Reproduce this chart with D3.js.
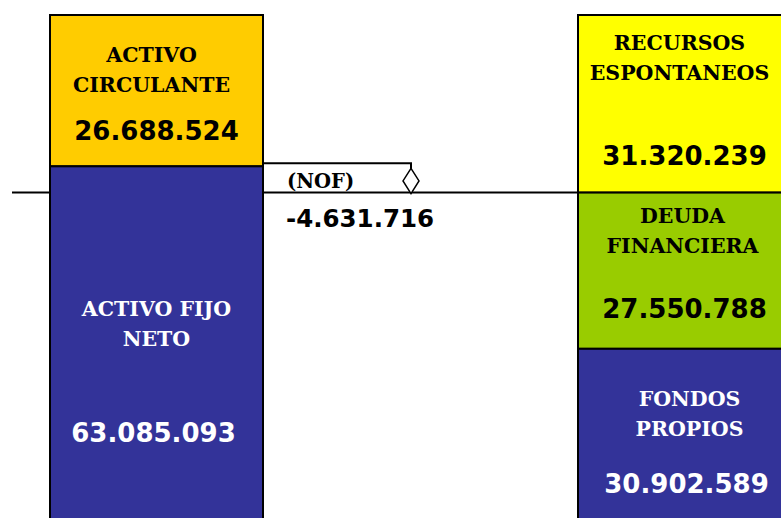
<html>
<script src="https://cdn.jsdelivr.net/npm/d3@7"></script>
<style>
body { margin:0; background:white; }
.lbl { font-family: "DejaVu Serif", serif; font-weight: bold; font-size: 20.5px; }
.num { font-family: "DejaVu Sans", Verdana, sans-serif; font-weight: bold; font-size: 26px; }
</style>
<body>
<div id="chart"></div>
</body>
<script>

// balance sheet data
var sides = ["activo", "pasivo"]
var activoLabels = [["ACTIVO", "CIRCULANTE"], ["ACTIVO FIJO", "NETO"]]
var activoValues = [26688524, 63085093]
var activoColors = ["#FFCC00", "#333399"]
var pasivoLabels = [["RECURSOS", "ESPONTANEOS"], ["DEUDA", "FINANCIERA"], ["FONDOS", "PROPIOS"]]
var pasivoValues = [31320239, 27550788, 30902589]
var pasivoColors = ["#FFFF00", "#99CC00", "#333399"]
var nofLabel = "(NOF)"
var nofValue = -4631716

var fmt = function(v){ return d3.format(",")(v).replace(/,/g, ".").replace("−", "-") }

var W = 781, H = 518, colW = 213

var svg = d3.select("#chart").append("svg").attr("width", W).attr("height", H)

var total = d3.sum(activoValues)
var y = d3.scaleLinear().domain([0, total]).range([15, 15 + total * 5.67e-6])
var x = d3.scalePoint().domain(sides).range([50, 578])

function stack(vals){
	var acc = 0
	return vals.map(function(v){ var s = acc; acc += v; return {y0: s, y1: acc, v: v} })
}

function drawColumn(side, vals, labels, colors, nameOff, numOff){
	var data = stack(vals)
	var g = svg.append("g")
	g.selectAll("rect").data(data).enter().append("rect")
		.attr("x", x(side)).attr("y", function(d){ return y(d.y0) })
		.attr("width", colW).attr("height", function(d){ return y(d.y1) - y(d.y0) })
		.attr("fill", function(d,i){ return colors[i] })
		.attr("stroke", "black").attr("stroke-width", 2)

	data.forEach(function(d,i){
		var txtCol = colors[i] == "#333399" ? "white" : "black"
		var top = y(d.y0)
		labels[i].forEach(function(l,j){
			g.append("text").attr("class","lbl").attr("text-anchor","middle")
				.attr("x", x(side) + colW/2 + nameOff[i][0]).attr("y", top + nameOff[i][1] + j*30)
				.attr("fill", txtCol).text(l)
		})
		g.append("text").attr("class","num").attr("text-anchor","middle")
			.attr("x", x(side) + colW/2 + numOff[i][0]).attr("y", top + numOff[i][1])
			.attr("fill", txtCol).text(fmt(d.v))
	})
}

// base line at the level of spontaneous resources
var lineY = y(pasivoValues[0])
svg.append("line").attr("x1", 12).attr("x2", x("pasivo")).attr("y1", lineY).attr("y2", lineY)
	.attr("stroke","black").attr("stroke-width",2)

drawColumn("activo", activoValues, activoLabels, activoColors,
	[[-5, 47], [0, 150]], [[0, 125], [-3, 276]])
drawColumn("pasivo", pasivoValues, pasivoLabels, pasivoColors,
	[[-5, 35], [-2, 30], [5, 57]], [[0, 150], [0, 125], [2, 144]])

// NOF bracket
var bx = 411, topY = y(activoValues[0]) - 3
svg.append("polyline")
	.attr("points", [[x("activo") + colW, topY], [bx, topY], [bx, lineY]].join(" "))
	.attr("fill","none").attr("stroke","black").attr("stroke-width",2)
var mid = (topY + lineY) / 2 + 3
svg.append("polygon")
	.attr("points", [[bx, topY + 5], [bx + 8, mid], [bx, lineY + 1], [bx - 8, mid]].join(" "))
	.attr("fill","white").attr("stroke","black").attr("stroke-width",1.5)

svg.append("text").attr("class","lbl").style("font-size","19.5px")
	.attr("x", 287).attr("y", lineY - 5).text(nofLabel)
svg.append("text").attr("class","num").style("font-size","24.5px")
	.attr("x", 286).attr("y", lineY + 34).text(fmt(nofValue))

</script>
</html>
